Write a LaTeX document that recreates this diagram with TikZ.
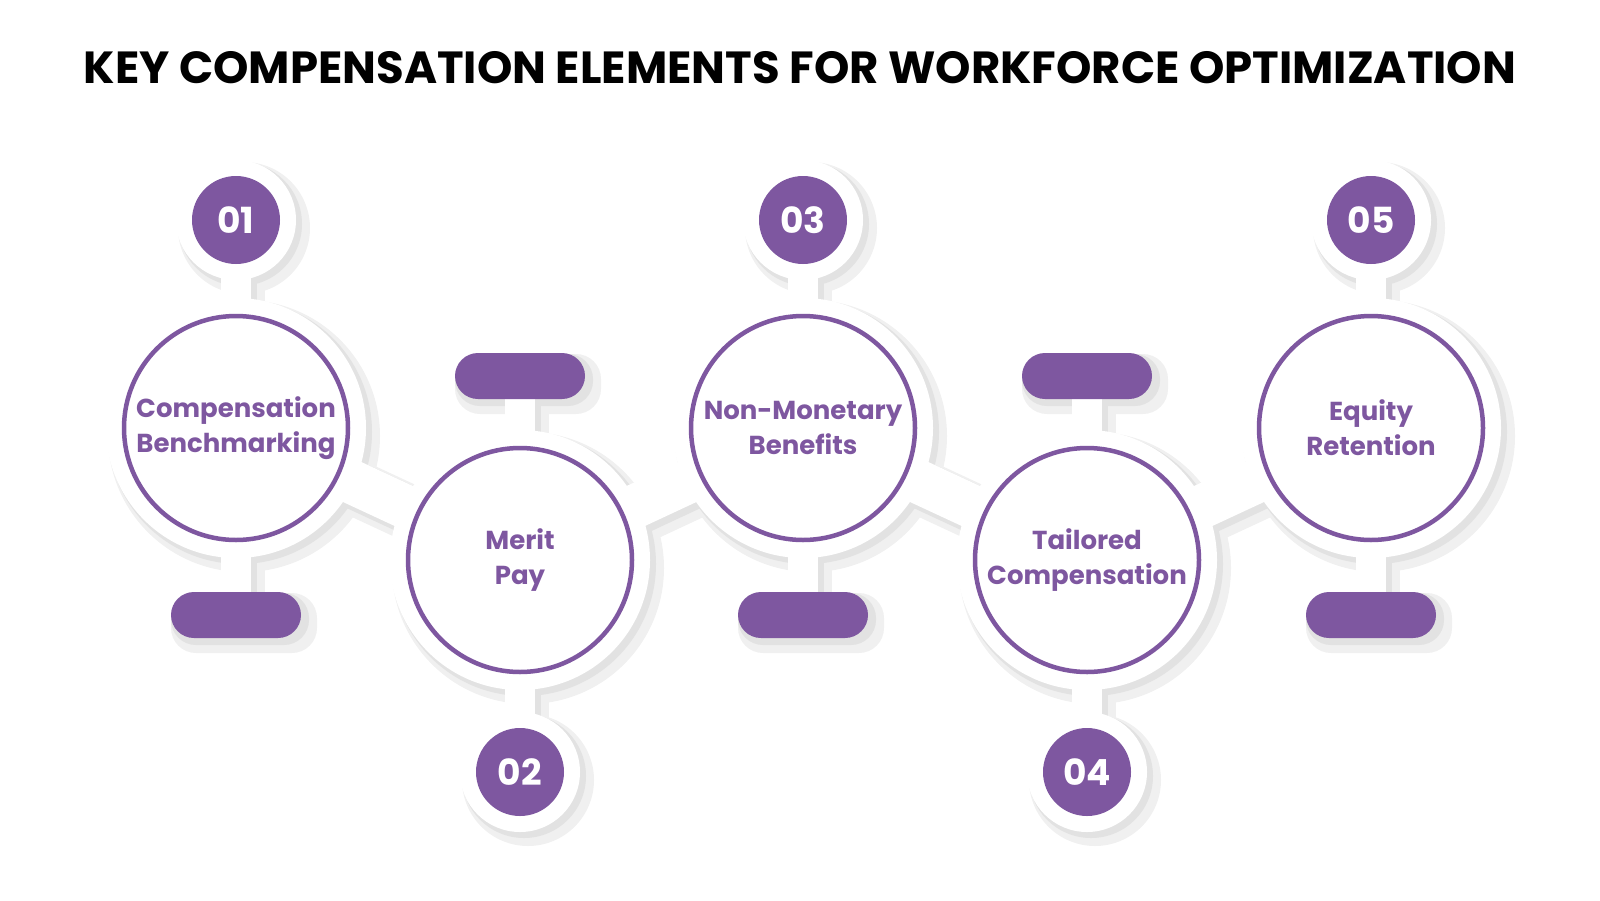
\documentclass[tikz,border=0pt]{standalone}
\usepackage{fontspec}
\setmainfont{Poppins}
\definecolor{pur}{HTML}{7E57A0}
\definecolor{shd}{HTML}{E2E2E2}
\definecolor{shd2}{HTML}{F0F0F0}
\begin{document}
\begin{tikzpicture}[x=1pt,y=-1pt,
  link/.style={line width=#1,white,line cap=round},
  ring/.style={circle,draw=pur,line width=4.5pt,fill=white,minimum size=224pt,align=center,text=pur,font=\fontsize{26}{35}\selectfont\bfseries},
  num/.style={circle,fill=pur,minimum size=88pt,text=white,font=\fontsize{36}{40}\selectfont\bfseries},
  bar/.style={rounded corners=23pt,fill=pur,minimum width=130pt,minimum height=46pt},
]
\useasboundingbox (0,0) rectangle (1600,900);
\node[font=\fontsize{45}{50}\selectfont\bfseries] (title) at (800,68) {KEY COMPENSATION ELEMENTS FOR WORKFORCE OPTIMIZATION};
% soft shadows (two layers)
\foreach \o/\e/\c in {8/6/shd2, 4/2/shd}{
\begin{scope}[shift={(\o,\o)}]
 \foreach \x/\y/\n/\b in {236/428/220/615, 803/428/220/615, 1371/428/220/615, 520/560/772/376, 1087/560/772/376}{
  \draw[line width=30pt+2*\e pt,\c,line cap=round] (\x,\y) -- (\x,\n);
  \draw[line width=30pt+2*\e pt,\c,line cap=round] (\x,\y) -- (\x,\b);
  \fill[\c] (\x,\y) circle (130+\e);
  \fill[\c] (\x,\n) circle (60+\e);
 }
 \draw[line width=44pt+2*\e pt,\c,line cap=round] (236,428) -- (520,560) -- (803,428) -- (1087,560) -- (1371,428);
 \foreach \x/\b in {236/615, 803/615, 1371/615, 520/376, 1087/376}{
  \fill[\c,rounded corners=25pt] (\x-67-\e,\b-24-\e) rectangle (\x+67+\e,\b+24+\e);
 }
\end{scope}}
\draw[link=44pt] (236,428) -- (520,560) -- (803,428) -- (1087,560) -- (1371,428);
\foreach \x/\y/\n/\b in {236/428/220/615, 803/428/220/615, 1371/428/220/615, 520/560/772/376, 1087/560/772/376}{
  \draw[link=30pt] (\x,\y) -- (\x,\n);
  \draw[link=30pt] (\x,\y) -- (\x,\b);
  \fill[white] (\x,\y) circle (130);
  \fill[white] (\x,\n) circle (60);
}
\node[bar] (b1) at (236,615) {};
\node[bar] (b3) at (803,615) {};
\node[bar] (b5) at (1371,615) {};
\node[bar] (b2) at (520,376) {};
\node[bar] (b4) at (1087,376) {};
\node[ring] (r1) at (236,428) {Compensation\\Benchmarking};
\node[ring] (r2) at (520,560) {Merit\\Pay};
\node[ring] (r3) at (803,428) {Non-Monetary\\Benefits};
\node[ring] (r4) at (1087,560) {Tailored\\Compensation};
\node[ring] (r5) at (1371,428) {Equity\\Retention};
\node[num] (n1) at (236,220) {01};
\node[num] (n2) at (520,772) {02};
\node[num] (n3) at (803,220) {03};
\node[num] (n4) at (1087,772) {04};
\node[num] (n5) at (1371,220) {05};
\end{tikzpicture}
\end{document}
